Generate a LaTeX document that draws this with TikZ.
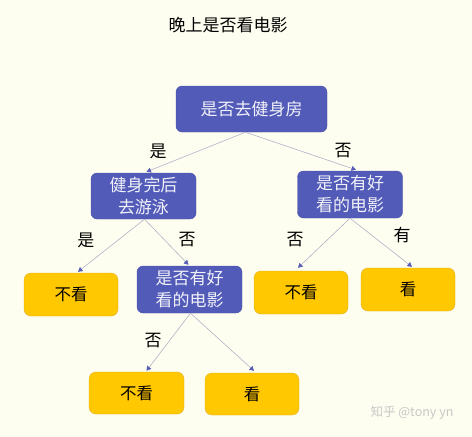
\documentclass[tikz,border=0pt]{standalone}
\usepackage{fontspec}
\setmainfont{Noto Sans CJK SC}
\usepackage{xcolor}
\definecolor{cream}{RGB}{254, 254, 240}
\definecolor{qblue}{RGB}{83, 91, 185}
\definecolor{qborder}{RGB}{72, 80, 170}
\definecolor{leafyellow}{RGB}{255, 200, 0}
\definecolor{leafborder}{RGB}{222, 176, 40}
\definecolor{linegray}{RGB}{178, 178, 200}
\definecolor{tipblue}{RGB}{88, 94, 182}
\usepackage{tikz}
\usetikzlibrary{
    arrows.meta,
    positioning
}

\begin{document}
\begin{tikzpicture}[
  x=1pt, y=-1pt,
  qbox/.style={draw=qborder, fill=qblue, rounded corners=6pt, text=white!92!qblue,
    font=\fontsize{17}{22}\selectfont, align=center, inner sep=0pt,
    minimum width=105pt, minimum height=46pt},
  leaf/.style={draw=leafborder, fill=leafyellow, rounded corners=7pt, text=black,
    font=\fontsize{16.5}{20}\selectfont, inner sep=0pt,
    minimum width=94pt, minimum height=43pt},
  lbl/.style={font=\fontsize{17}{20}\selectfont, inner sep=0pt},
  arrow/.style={draw=linegray, line width=0.6pt,
    -{Triangle[width=5pt, length=4.5pt, color=tipblue]}}
]

\fill[cream] (0,0) rectangle (472,437);

\node (title) [lbl] at (228,25) {晚上是否看电影};

% decision nodes
\node (gym)   [qbox, minimum width=151pt] at (251.5,109) {是否去健身房};
\node (swim)  [qbox] at (143.5,196)   {健身完后\\去游泳};
\node (movieR) [qbox, minimum height=47pt] at (350,194.5) {是否有好\\看的电影};
\node (movieL) [qbox, minimum height=47pt] at (189.5,289.5) {是否有好\\看的电影};

% leaves
\node (noA)  [leaf] at (71,294.5)  {不看};
\node (noB)  [leaf] at (301,292.5) {不看};
\node (yesB) [leaf] at (408,289.5) {看};
\node (noC)  [leaf, minimum width=95pt, minimum height=42pt] at (136.5,393) {不看};
\node (yesC) [leaf, minimum height=42pt] at (252,394) {看};

\draw[arrow] ([xshift=-6pt]gym.south) -- ([xshift=3pt, yshift=1pt]swim.north);
\draw[arrow] ([xshift=-6pt]gym.south) -- ([xshift=6pt, yshift=1pt]movieR.north);
\draw[arrow] ([xshift=1pt]swim.south) -- ([xshift=7pt, yshift=1pt]noA.north);
\draw[arrow] ([xshift=1pt]swim.south) -- ([xshift=-1pt, yshift=1pt]movieL.north);
\draw[arrow] (movieR.south) -- ([xshift=-3pt, yshift=3pt]noB.north);
\draw[arrow] (movieR.south) -- ([xshift=4pt, yshift=1pt]yesB.north);
\draw[arrow] ([xshift=1pt]movieL.south) -- ([xshift=10pt, yshift=1pt]noC.north);
\draw[arrow] ([xshift=1pt]movieL.south) -- ([xshift=2pt, yshift=2pt]yesC.north);

% branch labels
\node (gymYes)   [lbl] at (158,151) {是};
\node (gymNo)    [lbl] at (343,151) {否};
\node (swimYes)  [lbl] at (86,240)  {是};
\node (swimNo)   [lbl] at (187,240) {否};
\node (movieRNo) [lbl] at (295,240) {否};
\node (movieRYes)[lbl] at (402,235) {有};
\node (movieLNo) [lbl] at (153,341) {否};

\node (mark) [font=\fontsize{12.5}{14}\selectfont, text=black!22] at (412,413) {知乎 @tony yn};

\end{tikzpicture}
\end{document}
